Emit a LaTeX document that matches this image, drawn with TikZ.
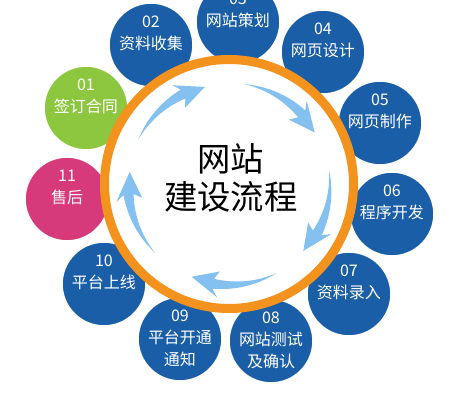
\documentclass[tikz,border=0pt]{standalone}
\usepackage{fontspec}
\setmainfont{Noto Sans CJK SC}
\definecolor{stepblue}{RGB}{26,94,168}
\definecolor{stepgreen}{RGB}{141,198,63}
\definecolor{steppink}{RGB}{214,58,122}
\definecolor{ringorange}{RGB}{243,146,28}
\definecolor{arrowblue}{RGB}{132,192,240}
\begin{document}
\begin{tikzpicture}[x=0.75pt,y=0.75pt,yscale=-1,xscale=1,
  stage/.style={circle,draw=white,line width=1.2pt,minimum size=63pt,inner sep=0pt},
  stagetext/.style={text=white,align=center,inner sep=0pt,font=\fontsize{12}{16.5}\selectfont},
  hub/.style={circle,draw=ringorange,line width=6.75pt,fill=white,minimum size=186.75pt,inner sep=0pt},
  flowarrow/.style={fill=arrowblue}]

\useasboundingbox (0,0) rectangle (455,420);
\clip (0,0) rectangle (455,420);

%Shape: Circle [steps]
\node [stage,fill=stepgreen] (st01) at (86,108) {};
\node [stage,fill=stepblue] (st02) at (151,45) {};
\node [stage,fill=stepblue] (st03) at (238,22) {};
\node [stage,fill=stepblue] (st04) at (323,52) {};
\node [stage,fill=stepblue] (st05) at (380,123) {};
\node [stage,fill=stepblue] (st06) at (392,214) {};
\node [stage,fill=stepblue] (st07) at (349,294) {};
\node [stage,fill=stepblue] (st08) at (271,341) {};
\node [stage,fill=stepblue] (st09) at (180,339) {};
\node [stage,fill=stepblue] (st10) at (104,284) {};
\node [stage,fill=steppink] (st11) at (67,199) {};

%Shape: Circle [hub]
\node [hub] (hub) at (229,184) {};

%Shape: Arrows [clockwise]
\begin{scope}[shift={(229,184)},yscale=-1]
\fill [flowarrow] plot[domain=0:1,samples=16] ({154-37*\x}:{101+5*\x}) -- ({154-34}:114) -- ({154-50}:100) -- ({154-34}:88) -- plot[domain=1:0,samples=16] ({154-37*\x}:{101-5*\x}) -- cycle;
\fill [flowarrow] plot[domain=0:1,samples=16] ({81-37*\x}:{101+5*\x}) -- ({81-34}:114) -- ({81-50}:100) -- ({81-34}:88) -- plot[domain=1:0,samples=16] ({81-37*\x}:{101-5*\x}) -- cycle;
\fill [flowarrow] plot[domain=0:1,samples=16] ({8-37*\x}:{101+5*\x}) -- ({8-34}:114) -- ({8-50}:100) -- ({8-34}:88) -- plot[domain=1:0,samples=16] ({8-37*\x}:{101-5*\x}) -- cycle;
\fill [flowarrow] plot[domain=0:1,samples=16] ({-62-37*\x}:{101+5*\x}) -- ({-62-34}:114) -- ({-62-50}:100) -- ({-62-34}:88) -- plot[domain=1:0,samples=16] ({-62-37*\x}:{101-5*\x}) -- cycle;
\fill [flowarrow] plot[domain=0:1,samples=16] ({-137-37*\x}:{101+5*\x}) -- ({-137-34}:114) -- ({-137-50}:100) -- ({-137-34}:88) -- plot[domain=1:0,samples=16] ({-137-37*\x}:{101-5*\x}) -- cycle;
\end{scope}

% Text Node
\node [inner sep=0pt,align=center,font=\fontsize{25}{28}\selectfont] (title) at (231,178) {网站\\建设流程};
\node [stagetext] (t01) at (86,96) {01\\签订合同};
\node [stagetext] (t02) at (151,33) {02\\资料收集};
\node [stagetext] (t03) at (238,10) {03\\网站策划};
\node [stagetext] (t04) at (323,40) {04\\网页设计};
\node [stagetext] (t05) at (380,111) {05\\网页制作};
\node [stagetext] (t06) at (392,202) {06\\程序开发};
\node [stagetext] (t07) at (349,282) {07\\资料录入};
\node [stagetext] (t08) at (271,340) {08\\网站测试\\及确认};
\node [stagetext] (t09) at (180,338) {09\\平台开通\\通知};
\node [stagetext] (t10) at (104,272) {10\\平台上线};
\node [stagetext] (t11) at (67,187) {11\\售后};

\end{tikzpicture}
\end{document}
